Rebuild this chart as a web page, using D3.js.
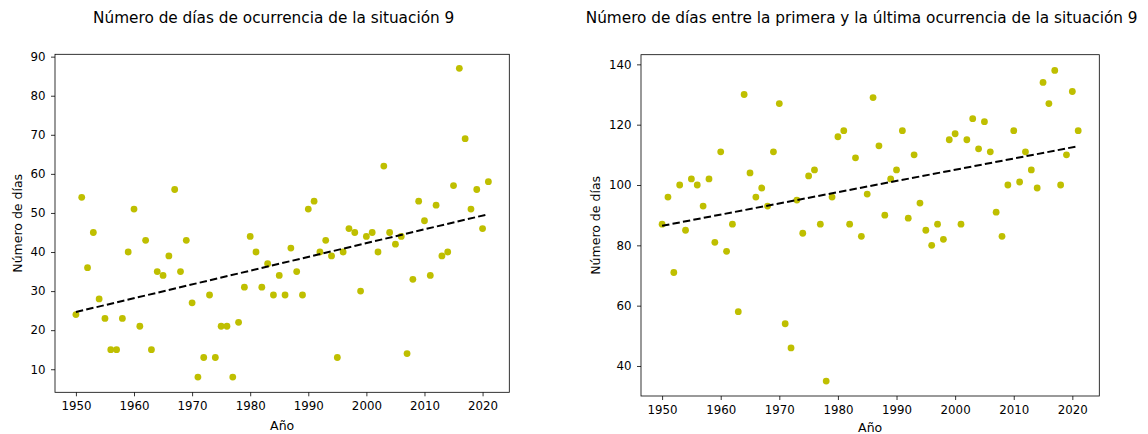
<!DOCTYPE html>
<html>
<head>
<meta charset="utf-8">
<script src="https://cdn.jsdelivr.net/npm/d3@7"></script>
<style>
  body { margin: 0; background: #fff; }
  svg text { font-family: "DejaVu Sans", sans-serif; fill: #000; }
</style>
</head>
<body>
<div id="chart"></div>
<script>
// años 1950..2021
let years = d3.range(1950, 2022);

// días de ocurrencia de la situación 9
let diasOcurrencia = [24, 54, 36, 45, 28, 23, 15, 15, 23, 40,
                      51, 21, 43, 15, 35, 34, 39, 56, 35, 43,
                      27, 8, 13, 29, 13, 21, 21, 8, 22, 31,
                      44, 40, 31, 37, 29, 34, 29, 41, 35, 29,
                      51, 53, 40, 43, 39, 13, 40, 46, 45, 30,
                      44, 45, 40, 62, 45, 42, 44, 14, 33, 53,
                      48, 34, 52, 39, 40, 57, 87, 69, 51, 56,
                      46, 58];

// días entre la primera y la última ocurrencia
let diasEntre = [87, 96, 71, 100, 85, 102, 100, 93, 102, 81,
                 111, 78, 87, 58, 130, 104, 96, 99, 93, 111,
                 127, 54, 46, 95, 84, 103, 105, 87, 35, 96,
                 116, 118, 87, 109, 83, 97, 129, 113, 90, 102,
                 105, 118, 89, 110, 94, 85, 80, 87, 82, 115,
                 117, 87, 115, 122, 112, 121, 111, 91, 83, 100,
                 118, 101, 111, 105, 99, 134, 127, 138, 100, 110,
                 131, 118];

let xTicks = [1950, 1960, 1970, 1980, 1990, 2000, 2010, 2020];
let yTicksLeft = [10, 20, 30, 40, 50, 60, 70, 80, 90];
let yTicksRight = [40, 60, 80, 100, 120, 140];

let titleLeft = "Número de días de ocurrencia de la situación 9";
let titleRight = "Número de días entre la primera y la última ocurrencia de la situación 9";

let svg = d3.select("#chart").append("svg")
    .attr("width", 1148).attr("height", 434);

function panel(cfg) {
    let x = d3.scaleLinear().domain([1946.4, 2024.6]).range([cfg.left, cfg.right]);
    let y = d3.scaleLinear().domain(cfg.ydom).range([cfg.bottom, cfg.top]);
    let g = svg.append("g");

    // linear fit
    let mx = d3.mean(years), my = d3.mean(cfg.values);
    let num = d3.sum(years, (d, i) => (d - mx) * (cfg.values[i] - my));
    let den = d3.sum(years, d => (d - mx) * (d - mx));
    let b = num / den, a = my - b * mx;
    let fit = [1950, 2021].map(d => ({x: d, y: a + b * d}));

    g.selectAll(".dot").data(years).enter().append("circle")
        .attr("cx", d => x(d))
        .attr("cy", (d, i) => y(cfg.values[i]))
        .attr("r", 3.4)
        .attr("fill", "#bfbf00");

    g.append("path").datum(fit)
        .attr("d", d3.line().x(d => x(d.x)).y(d => y(d.y)))
        .attr("fill", "none").attr("stroke", "#000")
        .attr("stroke-width", 2).attr("stroke-dasharray", "7.4,3.2");

    let xAxis = d3.axisBottom(x).tickValues(xTicks).tickFormat(d3.format("d"))
        .tickSize(4).tickPadding(5.5);
    let yAxis = d3.axisLeft(y).tickValues(cfg.yticks).tickSize(4).tickPadding(5.5);

    let gx = g.append("g").attr("transform", "translate(0," + cfg.bottom + ")").call(xAxis);
    let gy = g.append("g").attr("transform", "translate(" + cfg.left + ",0)").call(yAxis);
    [gx, gy].forEach(a => {
        a.select(".domain").remove();
        a.selectAll("line").attr("stroke", "#000").attr("stroke-width", 0.8);
        a.selectAll("text").style("font-size", "11.8px").attr("fill", "#000");
    });

    g.append("rect")
        .attr("x", cfg.left).attr("y", cfg.top)
        .attr("width", cfg.right - cfg.left).attr("height", cfg.bottom - cfg.top)
        .attr("fill", "none").attr("stroke", "#000").attr("stroke-width", 0.8);

    g.append("text").attr("x", (cfg.left + cfg.right) / 2 - 8.5).attr("y", 22.5)
        .attr("text-anchor", "middle").style("font-size", "15.3px").text(cfg.title);
    g.append("text").attr("x", (cfg.left + cfg.right) / 2).attr("y", Math.min(cfg.bottom + 37.5, 432))
        .attr("text-anchor", "middle").style("font-size", "12.5px").text("Año");
    g.append("text")
        .attr("transform", "translate(" + cfg.ylabx + "," + (cfg.top + cfg.bottom) / 2 + ") rotate(-90)")
        .attr("text-anchor", "middle").style("font-size", "12.5px").text("Número de días");
}

panel({left: 55, right: 509.3, top: 54.3, bottom: 392.3, ydom: [4.1, 90.6],
       values: diasOcurrencia, yticks: yTicksLeft, title: titleLeft, ylabx: 21.5});
panel({left: 641, right: 1099.3, top: 54.7, bottom: 396, ydom: [30.05, 143.2],
       values: diasEntre, yticks: yTicksRight, title: titleRight, ylabx: 600});
</script>
</body>
</html>
